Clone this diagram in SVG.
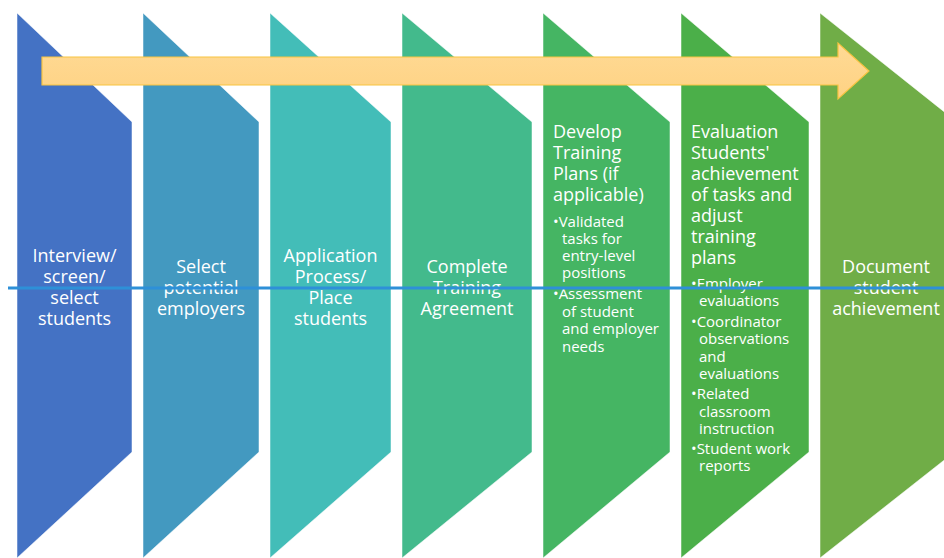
<svg xmlns="http://www.w3.org/2000/svg" width="944" height="558" viewBox="0 0 944 558">
<style>
.t{font-family:"Open Sans","Noto Sans","Liberation Sans",sans-serif;fill:#ffffff;font-size:18px}
.c{text-anchor:middle}
.b{font-size:15px}
.s{stroke:#ffffff;stroke-opacity:0.5;stroke-width:1}
</style>
<defs>
<linearGradient id="yg" x1="0" y1="0" x2="0" y2="1">
<stop offset="0" stop-color="#FFDA95"/>
<stop offset="1" stop-color="#FED283"/>
</linearGradient>
</defs>
<rect width="944" height="558" fill="#ffffff"/>
<g id="step1">
<polygon class="s" fill="#4472C4" points="17,13 132,122 132,452 17,558"/>
<text class="t c" x="74.5"><tspan x="74.5" y="262">Interview/</tspan><tspan x="74.5" y="283">screen/</tspan><tspan x="74.5" y="304">select</tspan><tspan x="74.5" y="325">students</tspan></text>
</g>
<g id="step2">
<polygon class="s" fill="#4399C0" points="143,13 259,122 259,452 143,558"/>
<text class="t c"><tspan x="201" y="273">Select</tspan><tspan x="201" y="294">potential</tspan><tspan x="201" y="315">employers</tspan></text>
</g>
<g id="step3">
<polygon class="s" fill="#43BDB8" points="270,13 391,122 391,452 270,558"/>
<text class="t c"><tspan x="330.5" y="262">Application</tspan><tspan x="330.5" y="283">Process/</tspan><tspan x="330.5" y="304">Place</tspan><tspan x="330.5" y="325">students</tspan></text>
</g>
<g id="step4">
<polygon class="s" fill="#43BA8C" points="402,13 532,122 532,452 402,558"/>
<text class="t c"><tspan x="467" y="273">Complete</tspan><tspan x="467" y="294">Training</tspan><tspan x="467" y="315">Agreement</tspan></text>
</g>
<g id="step5">
<polygon class="s" fill="#45B563" points="543,13 670,122 670,452 543,558"/>
<text class="t"><tspan x="553" y="138">Develop</tspan><tspan x="553" y="159">Training</tspan><tspan x="553" y="180">Plans (if</tspan><tspan x="553" y="201">applicable)</tspan></text>
<text class="t b"><tspan x="553" y="227">•Validated</tspan><tspan x="562" y="244">tasks for</tspan><tspan x="562" y="261">entry-level</tspan><tspan x="562" y="278">positions</tspan><tspan x="553" y="299">•Assessment</tspan><tspan x="562" y="317">of student</tspan><tspan x="562" y="334">and employer</tspan><tspan x="562" y="352">needs</tspan></text>
</g>
<g id="step6">
<polygon class="s" fill="#4BAF49" points="681,13 809,122 809,452 681,558"/>
<text class="t"><tspan x="691" y="138">Evaluation</tspan><tspan x="691" y="159">Students'</tspan><tspan x="691" y="180">achievement</tspan><tspan x="691" y="201">of tasks and</tspan><tspan x="691" y="222">adjust</tspan><tspan x="691" y="243">training</tspan><tspan x="691" y="264">plans</tspan></text>
<text class="t b"><tspan x="691" y="289">•Employer</tspan><tspan x="699" y="306">evaluations</tspan><tspan x="691" y="327">•Coordinator</tspan><tspan x="699" y="344">observations</tspan><tspan x="699" y="362">and</tspan><tspan x="699" y="379">evaluations</tspan><tspan x="691" y="399">•Related</tspan><tspan x="699" y="417">classroom</tspan><tspan x="699" y="434">instruction</tspan><tspan x="691" y="454">•Student work</tspan><tspan x="699" y="471">reports</tspan></text>
</g>
<g id="step7">
<polygon class="s" fill="#70AD47" points="820,13 957,122 957,450 820,558"/>
<text class="t c"><tspan x="886" y="273">Document</tspan><tspan x="886" y="294">student</tspan><tspan x="886" y="315">achievement</tspan></text>
</g>
<g id="connectors">
<polygon fill="url(#yg)" stroke="#F7C340" stroke-width="1.2" points="42,57 838,57 838,43 869,71 838,99 838,85 42,85"/>
<line x1="8" y1="288" x2="944" y2="288" stroke="#2E90D8" stroke-width="3"/>
</g>
</svg>
